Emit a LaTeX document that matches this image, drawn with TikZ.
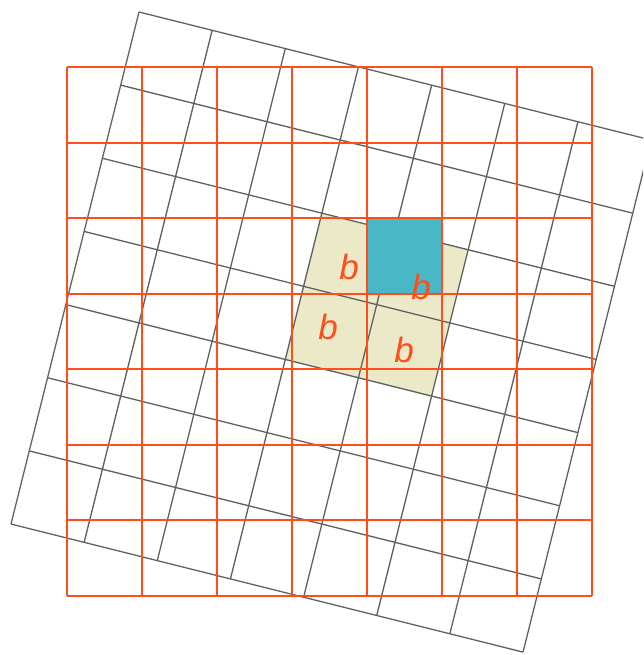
\documentclass[tikz,border=0pt]{standalone}
\usepackage{fontspec}
\setmainfont{Liberation Sans}
\definecolor{gridred}{RGB}{255,78,28}
\definecolor{gridgray}{RGB}{95,95,95}
\definecolor{tealcell}{RGB}{72,184,198}
\definecolor{beigecell}{RGB}{236,233,200}
\tikzset{
  redgrid/.style={draw=gridred, line width=2.1pt},
  graygrid/.style={draw=gridgray, line width=1.3pt},
  blabel/.style={text=gridred, font=\fontsize{35}{35}\selectfont\itshape, inner sep=0pt}
}
\begin{document}
\begin{tikzpicture}[x=1pt,y=-1pt]
\useasboundingbox (0,0) rectangle (643,655);
\clip (0,0) rectangle (643,655);
% rotated grid with beige cells
\begin{scope}[shift={(139,12)}, x={(73.15pt,-18.29pt)}, y={(-18.29pt,-73.15pt)}]
  \fill[beigecell] (3,2) -- (5,2) -- (5,4) -- (3,4) -- cycle;
  \foreach \k in {0,...,7} {
    \draw[graygrid] (\k,0) -- (\k,7);
    \draw[graygrid] (0,\k) -- (7,\k);
  }
\end{scope}
% red axis-aligned grid
\begin{scope}[shift={(67,67)}, x=75pt, y=-75.57pt]
  \fill[tealcell] (4,2) -- (5,2) -- (5,3) -- (4,3) -- cycle;
  \foreach \k in {0,...,7} {
    \draw[redgrid] (\k,0) -- (\k,7);
    \draw[redgrid] (0,\k) -- (7,\k);
  }
\end{scope}
\node[blabel] (b1) at (349,267) {b};
\node[blabel] (b2) at (421,287) {b};
\node[blabel] (b3) at (328,327) {b};
\node[blabel] (b4) at (404,350) {b};
\end{tikzpicture}
\end{document}
